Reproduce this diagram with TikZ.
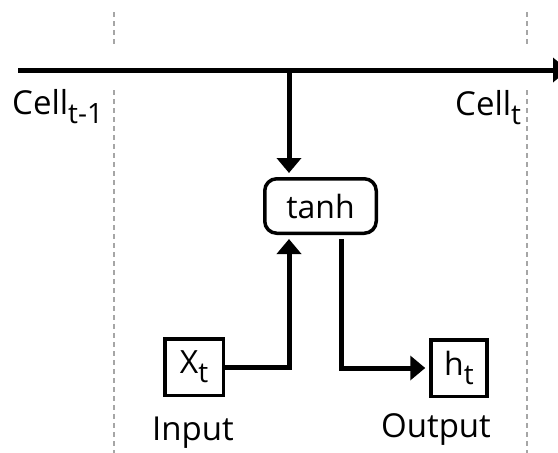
\documentclass[tikz,border=0pt]{standalone}
\usepackage{fontspec}
\setmainfont{Open Sans}
\usetikzlibrary{arrows.meta}
\newcommand{\lowsub}[2][9pt]{\raisebox{-#1}{\fontsize{28}{30}\selectfont #2}}
\begin{document}
\begin{tikzpicture}[
    x=1pt, y=-1pt,
    gate/.style={rectangle, draw, rounded corners=12pt, line width=3.5pt,
                 minimum width=111.5pt, minimum height=54.5pt, inner sep=0pt,
                 font=\fontsize{32}{34}\selectfont},
    vec/.style={rectangle, draw, line width=3.5pt, minimum width=56pt,
                minimum height=56.5pt, inner sep=0pt,
                font=\fontsize{32}{34}\selectfont},
    lbl/.style={inner sep=0pt, font=\fontsize{33}{35}\selectfont},
    flow/.style={line width=5pt, -{Triangle[width=24pt,length=15pt]}},
    sep/.style={gray!70, line width=1.5pt, dash pattern=on 5pt off 4pt}
]
\clip (0,0) rectangle (558,453);
\useasboundingbox (0,0) rectangle (558,453);

\node[gate] (tanh) at (320.5,206) {tanh};
\node[vec, minimum width=58.5pt] (xt) at (194,367) {X\lowsub{t}};
\node[vec] (ht) at (459,368) {h\lowsub{t}};
\node[lbl, anchor=base] (input) at (193,440) {Input};
\node[lbl, anchor=base] (output) at (436,437) {Output};
\node[lbl, anchor=base west] (cellprev) at (12,114) {Cell\lowsub{t-1}};
\node[lbl, anchor=base west] (cellcur) at (455,115) {Cell\lowsub{t}};

\coordinate (cin) at (18,70);
\coordinate (cout) at (568,70);
\coordinate (split) at (289,70);
\coordinate (outx) at (341,70);

% time boundaries
\draw[sep] (114,12) -- (114,45);
\draw[sep] (114,90) -- (114,453);
\draw[sep] (527,12) -- (527,45);
\draw[sep] (527,90) -- (527,453);

\draw[flow] (cin) -- (cout);
\draw[flow, shorten >=4pt] (split) -- (tanh.north -| split);
\draw[flow, shorten >=4pt] (xt.east) -| (tanh.south -| split);
\draw[flow, shorten <=4pt, shorten >=4pt] (tanh.south -| outx) |- (ht.west);
\end{tikzpicture}
\end{document}
